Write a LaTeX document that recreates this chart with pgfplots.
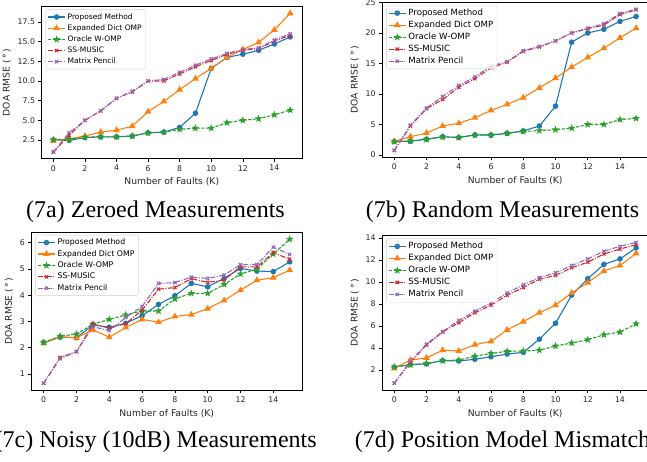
\documentclass[border=0pt]{standalone}
\usepackage{fontspec}
\setmainfont{DejaVu Sans}
\newfontfamily\capfont{Liberation Serif}
\usepackage{pgfplots}
\usepackage{pgfplotstable}
\pgfplotsset{compat=1.18}

\definecolor{mblue}{HTML}{1F77B4}
\definecolor{morange}{HTML}{FF7F0E}
\definecolor{mgreen}{HTML}{2CA02C}
\definecolor{mred}{HTML}{D62728}
\definecolor{mpurple}{HTML}{9467BD}

% filled five-point star, like matplotlib's '*'
\pgfdeclareplotmark{fstar}{%
  \pgfpathmoveto{\pgfpointpolar{90}{\pgfplotmarksize}}%
  \pgfpathlineto{\pgfpointpolar{126}{0.42\pgfplotmarksize}}%
  \pgfpathlineto{\pgfpointpolar{162}{\pgfplotmarksize}}%
  \pgfpathlineto{\pgfpointpolar{198}{0.42\pgfplotmarksize}}%
  \pgfpathlineto{\pgfpointpolar{234}{\pgfplotmarksize}}%
  \pgfpathlineto{\pgfpointpolar{270}{0.42\pgfplotmarksize}}%
  \pgfpathlineto{\pgfpointpolar{306}{\pgfplotmarksize}}%
  \pgfpathlineto{\pgfpointpolar{342}{0.42\pgfplotmarksize}}%
  \pgfpathlineto{\pgfpointpolar{18}{\pgfplotmarksize}}%
  \pgfpathlineto{\pgfpointpolar{54}{0.42\pgfplotmarksize}}%
  \pgfpathclose
  \pgfusepathqfillstroke}

% K  proposed  expdict  oracle  ssmusic  pencil
\pgfplotstableread{
K P E O S M
0 2.50 2.40 2.55 0.95 1.00
1 2.45 2.65 2.60 3.10 3.40
2 2.80 3.00 2.85 5.00 5.00
3 2.90 3.50 2.90 6.20 6.20
4 2.90 3.75 2.90 7.80 7.80
5 3.00 4.25 3.00 8.60 8.70
6 3.40 6.10 3.40 10.0 10.0
7 3.50 7.40 3.50 10.0 10.2
8 4.10 8.90 3.85 10.9 11.1
9 5.90 10.3 4.00 11.8 12.0
10 11.6 11.6 4.00 12.6 12.8
11 13.0 13.0 4.70 13.4 13.5
12 13.4 14.0 5.00 13.9 14.0
13 13.9 14.9 5.20 14.1 14.2
14 14.7 16.5 5.70 15.1 15.2
15 15.6 18.6 6.30 15.8 16.0
}\zeroed

\pgfplotstableread{
K P E O S M
0 2.20 2.25 2.20 0.75 0.75
1 2.25 3.00 2.30 4.75 4.90
2 2.60 3.60 2.55 7.60 7.70
3 3.00 4.75 2.95 9.10 9.60
4 2.85 5.20 2.90 11.1 11.4
5 3.30 6.10 3.25 12.5 12.8
6 3.25 7.30 3.30 14.3 14.6
7 3.55 8.30 3.55 15.2 15.3
8 3.95 9.40 3.85 17.0 17.1
9 4.75 11.0 4.00 17.7 17.8
10 8.00 12.6 4.15 18.7 18.7
11 18.5 14.4 4.40 20.0 20.0
12 20.0 16.0 5.00 20.7 20.8
13 20.6 17.5 5.00 21.3 21.5
14 21.9 19.2 5.80 23.0 23.2
15 22.7 20.8 6.00 23.8 23.9
}\randomm

\pgfplotstableread{
K P E O S M
0 2.20 2.17 2.20 0.65 0.65
1 2.40 2.42 2.44 1.63 1.58
2 2.38 2.38 2.52 1.85 1.85
3 2.87 2.68 2.90 2.90 2.80
4 2.78 2.40 3.08 2.75 2.65
5 2.93 2.77 3.25 2.92 3.15
6 3.22 3.08 3.40 3.43 3.57
7 3.65 2.97 3.40 4.23 4.45
8 3.98 3.19 3.86 4.29 4.48
9 4.45 3.26 4.07 4.63 4.69
10 4.32 3.49 4.07 4.49 4.64
11 4.64 3.80 4.41 4.58 4.77
12 5.02 4.19 4.81 5.08 5.16
13 4.92 4.57 4.99 5.08 5.17
14 4.90 4.67 5.57 5.62 5.83
15 5.27 4.95 6.13 5.37 5.55
}\noisy

\pgfplotstableread{
K P E O S M
0 2.25 2.15 2.27 0.80 0.80
1 2.50 2.90 2.45 2.70 2.80
2 2.55 3.10 2.60 4.27 4.35
3 2.85 3.80 2.85 5.45 5.50
4 2.82 3.73 2.90 6.30 6.50
5 2.97 4.30 3.25 7.20 7.35
6 3.20 4.60 3.50 7.90 8.10
7 3.45 5.65 3.70 8.80 9.00
8 3.60 6.40 3.72 9.50 9.75
9 4.80 7.20 3.80 10.25 10.4
10 6.25 7.90 4.18 10.6 10.85
11 8.80 9.00 4.45 11.3 11.5
12 10.3 9.95 4.75 11.8 12.1
13 11.6 11.0 5.20 12.55 12.8
14 12.1 11.5 5.45 13.0 13.25
15 13.1 12.6 6.20 13.4 13.6
}\mismatch

\pgfplotsset{
  faultaxis/.style={
    scale only axis,
    xmin=-0.75, xmax=15.75,
    xtick={0,2,...,14},
    xtick pos=bottom, ytick pos=left,
    tick align=outside,
    major tick length=3pt,
    tick style={black, line width=0.6pt},
    axis line style={black, line width=0.7pt},
    ticklabel style={font=\fontsize{7.8}{9}\selectfont, text=black!85},
    /pgf/number format/assume math mode=true,
    xlabel={Number of Faults (K)},
    ylabel={DOA RMSE (\,°\,)},
    label style={font=\fontsize{9.2}{11}\selectfont, text=black!85},
    legend cell align=left,
    legend style={at={(0,1)}, anchor=north west, xshift=4pt, yshift=-3pt,
      draw=black!18, rounded corners=1.5pt, fill=white, fill opacity=0.8,
      text opacity=1, inner sep=1.8pt, nodes={inner sep=2pt}},
  },
  pm/.style={mblue, line width=1.1pt, solid, mark=*, mark size=2.2pt},
  ed/.style={morange, line width=1.1pt, solid, mark=triangle*, mark size=2.8pt},
  ow/.style={mgreen, line width=1.1pt, dash pattern=on 3.3pt off 1.5pt, mark=fstar, mark size=2.4pt, mark options={solid}},
  ss/.style={mred, line width=1.1pt, dash pattern=on 5pt off 1.5pt on 1pt off 1.5pt, mark=x, mark size=2.3pt, mark options={solid}},
  mp/.style={mpurple, line width=1.1pt, dash pattern=on 5pt off 1.5pt on 1pt off 1.5pt, mark=x, mark size=2.3pt, mark options={solid}},
}

\begin{document}
\begin{tikzpicture}
\useasboundingbox (0,0) rectangle (647pt,462pt);

% (7a)
\begin{axis}[faultaxis, at={(41.5pt,303.3pt)}, anchor=south west,
  width=260.5pt, height=152.3pt,
  ymin=0.12, ymax=19.48, ytick={2.5,5,7.5,10,12.5,15,17.5},
  yticklabel style={/pgf/number format/.cd, fixed, fixed zerofill, precision=1},
  legend style={font=\fontsize{7.5}{8.5}\selectfont}]
\addplot[pm] table[x=K,y=P] {\zeroed};
\addplot[ed] table[x=K,y=E] {\zeroed};
\addplot[ow] table[x=K,y=O] {\zeroed};
\addplot[ss] table[x=K,y=S] {\zeroed};
\addplot[mp] table[x=K,y=M] {\zeroed};
\legend{Proposed Method,Expanded Dict OMP,Oracle W-OMP,SS-MUSIC,Matrix Pencil}
\end{axis}

% (7b)
\begin{axis}[faultaxis, at={(382.2pt,304.5pt)}, anchor=south west,
  width=266pt, height=155.4pt,
  ymin=-0.41, ymax=25.06, ytick={0,5,10,15,20,25},
  legend style={font=\fontsize{8.6}{9.6}\selectfont}]
\addplot[pm] table[x=K,y=P] {\randomm};
\addplot[ed] table[x=K,y=E] {\randomm};
\addplot[ow] table[x=K,y=O] {\randomm};
\addplot[ss] table[x=K,y=S] {\randomm};
\addplot[mp] table[x=K,y=M] {\randomm};
\legend{Proposed Method,Expanded Dict OMP,Oracle W-OMP,SS-MUSIC,Matrix Pencil}
\end{axis}

% (7c)
\begin{axis}[faultaxis, at={(31.4pt,71.7pt)}, anchor=south west,
  width=270.6pt, height=158.4pt,
  ymin=0.38, ymax=6.41, ytick={1,2,3,4,5,6},
  legend style={font=\fontsize{7.8}{8.8}\selectfont}]
\addplot[pm] table[x=K,y=P] {\noisy};
\addplot[ed] table[x=K,y=E] {\noisy};
\addplot[ow] table[x=K,y=O] {\noisy};
\addplot[ss] table[x=K,y=S] {\noisy};
\addplot[mp] table[x=K,y=M] {\noisy};
\legend{Proposed Method,Expanded Dict OMP,Oracle W-OMP,SS-MUSIC,Matrix Pencil}
\end{axis}

% (7d)
\begin{axis}[faultaxis, at={(382.2pt,71.8pt)}, anchor=south west,
  width=266pt, height=154.8pt,
  ymin=0.16, ymax=14.24, ytick={2,4,6,8,10,12,14},
  legend style={font=\fontsize{8.6}{9.6}\selectfont}]
\addplot[pm] table[x=K,y=P] {\mismatch};
\addplot[ed] table[x=K,y=E] {\mismatch};
\addplot[ow] table[x=K,y=O] {\mismatch};
\addplot[ss] table[x=K,y=S] {\mismatch};
\addplot[mp] table[x=K,y=M] {\mismatch};
\legend{Proposed Method,Expanded Dict OMP,Oracle W-OMP,SS-MUSIC,Matrix Pencil}
\end{axis}

\node[font=\capfont\fontsize{24}{28}\selectfont, anchor=base] at (155.5pt,244pt) {(7a) Zeroed Measurements};
\node[font=\capfont\fontsize{24}{28}\selectfont, anchor=base] at (502.5pt,244pt) {(7b) Random Measurements};
\node[font=\capfont\fontsize{24}{28}\selectfont, anchor=base] at (155.7pt,14pt) {(7c) Noisy (10dB) Measurements};
\node[font=\capfont\fontsize{24}{28}\selectfont, anchor=base] at (502.5pt,14pt) {(7d) Position Model Mismatch};
\end{tikzpicture}
\end{document}
